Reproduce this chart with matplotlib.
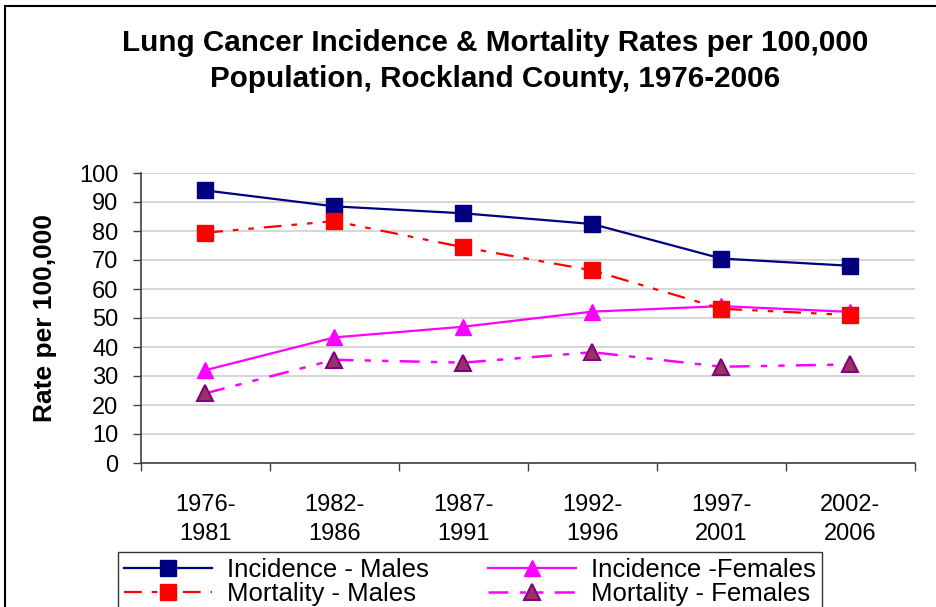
import matplotlib
matplotlib.use("Agg")
import matplotlib.pyplot as plt
from matplotlib.patches import Rectangle
import numpy as np

plt.rcParams['font.family'] = ['Liberation Sans', 'DejaVu Sans']

categories = ["1976-\n1981", "1982-\n1986", "1987-\n1991", "1992-\n1996", "1997-\n2001", "2002-\n2006"]
incidence_males = [94.0, 88.5, 86.1, 82.4, 70.5, 68.0]
mortality_males = [79.4, 83.4, 74.4, 66.4, 53.2, 51.0]
incidence_females = [32.0, 43.3, 47.0, 52.2, 54.1, 52.1]
mortality_females = [24.0, 35.6, 34.6, 38.2, 33.2, 34.0]

W, H = 937, 607
fig = plt.figure(figsize=(W / 100, H / 100), dpi=100)
ax = fig.add_axes([140.7 / W, 1 - 463 / H, (915 - 140.7) / W, (463 - 173) / H])

x = np.arange(len(categories))
dash = (8, 4.5, 2.5, 4.5, 2.5, 4.5)

ax.plot(x, incidence_males, color='#000080', lw=1.6, marker='s', markersize=11,
        markerfacecolor='#000080', markeredgecolor='#000080', label='Incidence - Males', zorder=4)
ax.plot(x, mortality_males, color='#FF0000', lw=1.6, dashes=dash, marker='s', markersize=11,
        markerfacecolor='#FF0000', markeredgecolor='#FF0000', label='Mortality - Males', zorder=4)
ax.plot(x, incidence_females, color='#FF00FF', lw=1.6, marker='^', markersize=12,
        markerfacecolor='#FF00FF', markeredgecolor='#FF00FF', label='Incidence -Females', zorder=3)
ax.plot(x, mortality_females, color='#FF00FF', lw=1.8, dashes=dash, marker='^', markersize=11,
        markerfacecolor='#993366', markeredgecolor='#800080', markeredgewidth=1.5,
        label='Mortality - Females', zorder=3)

ax.set_xlim(-0.5, len(categories) - 0.5)
ax.set_ylim(0, 100)
ax.set_yticks(np.arange(0, 101, 10))
ax.set_xticks(x)
ax.set_xticklabels(categories, fontsize=17, linespacing=1.45)
ax.set_xticks(np.arange(-0.5, len(categories), 1), minor=True)
ax.tick_params(axis='x', which='major', length=0, pad=22)
ax.tick_params(axis='x', which='minor', length=6, width=1, color='#404040', direction='out')
ax.tick_params(axis='y', length=6, width=1, color='#404040', labelsize=17, pad=10)

ax.grid(axis='y', color='#D0D0D0', lw=1.2)
ax.set_axisbelow(True)
for s in ['top', 'right']:
    ax.spines[s].set_visible(False)
for s in ['left', 'bottom']:
    ax.spines[s].set_color('#404040')
    ax.spines[s].set_linewidth(1.2)

fig.text(45 / W, 1 - 318 / H, 'Rate per 100,000', fontsize=19, fontweight='bold',
         rotation=90, ha='center', va='center')

fig.text(495 / W, 1 - 43 / H, 'Lung Cancer Incidence & Mortality Rates per 100,000',
         fontsize=21.3, fontweight='bold', ha='center', va='center')
fig.text(495 / W, 1 - 79 / H, 'Population, Rockland County, 1976-2006',
         fontsize=21.3, fontweight='bold', ha='center', va='center')

handles, labels = ax.get_legend_handles_labels()
leg = fig.legend(handles, labels, ncol=2,
                 loc='upper left', bbox_to_anchor=(118 / W, 1 - 552 / H),
                 fontsize=18.5, frameon=True, fancybox=False, shadow=False,
                 borderpad=0.25, labelspacing=0.0, handlelength=3.4, handletextpad=0.6,
                 columnspacing=2.3, borderaxespad=0)
leg.get_frame().set_edgecolor('black')
leg.get_frame().set_linewidth(1.0)

fig.patches.append(Rectangle((5 / W, -0.2), 2, 1 - 6 / H + 0.2, transform=fig.transFigure,
                             fill=False, edgecolor='black', lw=1.5))

fig.savefig('out.png', dpi=100)
